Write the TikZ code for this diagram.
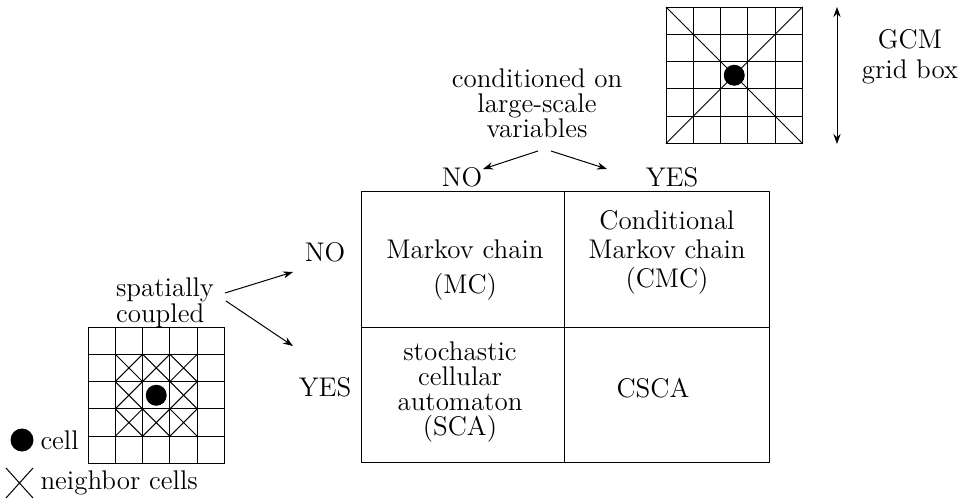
\documentclass[tikz,border=0pt,12pt]{standalone}
\usetikzlibrary{arrows.meta}
\tikzset{
  lbl/.style={inner sep=0pt, align=center, font=\fontsize{13.5}{#1}\selectfont},
  lbl/.default=15,
}
\begin{document}
\begin{tikzpicture}[x=0.5pt, y=-0.5pt, >={Stealth[length=5pt,width=3.6pt]}, line width=0.5pt, line join=round]
\useasboundingbox (0,0) rectangle (966,504);
\def\cw{27.3}
% GCM grid box
\begin{scope}[shift={(666,7)}]
  \foreach \i in {0,...,5} {
    \draw (\i*\cw,0) -- (\i*\cw,5*\cw);
    \draw (0,\i*\cw) -- (5*\cw,\i*\cw);
  }
  \draw (0,0) -- (5*\cw,5*\cw) (0,5*\cw) -- (5*\cw,0);
  \fill (2.5*\cw,2.5*\cw) circle (10.5);
\end{scope}
\coordinate (gtop) at (837,7);
\coordinate (gbot) at (837,144);
\draw[<->] (gtop) -- (gbot);
\node[lbl] (gcm) at (910,57) {GCM\\grid box};
% neighbourhood
\begin{scope}[shift={(88,327)}]
  \foreach \i in {0,...,5} {
    \draw (\i*\cw,0) -- (\i*\cw,5*\cw);
    \draw (0,\i*\cw) -- (5*\cw,\i*\cw);
  }
  \foreach \i/\j in {1/1,2/1,3/1,1/2,3/2,1/3,2/3,3/3}
    \draw (\i*\cw,\j*\cw) -- ++(\cw,\cw) (\i*\cw,\j*\cw+\cw) -- ++(\cw,-\cw);
  \fill (2.5*\cw,2.5*\cw) circle (10.5);
\end{scope}
\fill (22,440) circle (11.5);
\node[lbl, anchor=west] (cell) at (40,440) {cell};
\draw (6,468) -- (33,498) (6,498) -- (33,468);
\node[lbl, anchor=west] (nbr) at (40,483) {neighbor cells};
% table
\draw (361,191) rectangle (769,462);
\draw (564,191) -- (564,462) (361,327) -- (769,327);
\node[lbl=17.5] (mc) at (465,270) {Markov chain\\(MC)};
\node[lbl=14.5] (cmc) at (667,252) {Conditional\\Markov chain\\(CMC)};
\node[lbl=12.5] (sca) at (460,392) {stochastic\\cellular\\automaton\\(SCA)};
\node[lbl] (csca) at (653,388) {CSCA};
% labels
\node[lbl=12.5] (cond) at (537,103) {conditioned on\\large-scale\\variables};
\node[lbl] (tno) at (462,177) {NO};
\node[lbl] (tyes) at (672,177) {YES};
\node[lbl] (lno) at (325,252) {NO};
\node[lbl] (lyes) at (325,387) {YES};
\node[lbl=10, align=left] (coupled) at (165,303) {spatially\\coupled};
\coordinate (c1) at (538,151);
\coordinate (c2) at (551,151);
\coordinate (n1) at (483,169);
\coordinate (y1) at (607,169);
\coordinate (s1) at (225,293);
\coordinate (s2) at (226,301);
\coordinate (n2) at (293,272);
\coordinate (y2) at (293,346);
\draw[->] (c1) -- (n1);
\draw[->] (c2) -- (y1);
\draw[->] (s1) -- (n2);
\draw[->] (s2) -- (y2);
\end{tikzpicture}
\end{document}
